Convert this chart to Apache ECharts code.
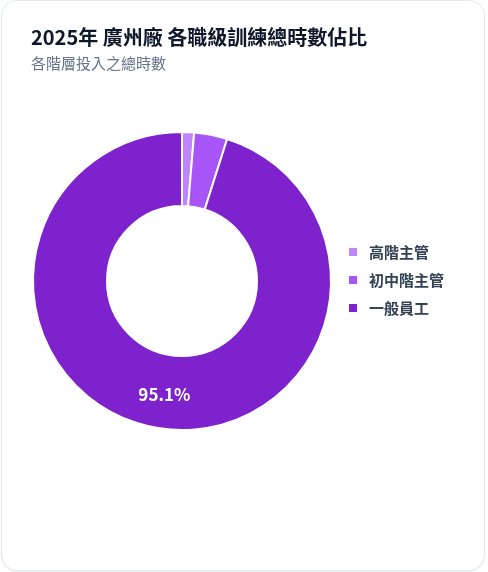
<!DOCTYPE html>
<html>
<head>
<meta charset="utf-8">
<script src="https://cdn.jsdelivr.net/npm/echarts@6/dist/echarts.min.js"></script>
<style>
  html, body { margin: 0; padding: 0; background: #ffffff; width: 488px; height: 572px; overflow: hidden; }
  #card { position: absolute; left: 1px; top: 0px; width: 482px; height: 569px; border: 1px solid #e2e8f0; border-radius: 16px; background: #fff; box-shadow: 0 1px 2px rgba(15,23,42,0.05); }
  #chart { position: absolute; left: 0; top: 0; width: 488px; height: 572px; }
</style>
</head>
<body>
<div id="card"></div>
<div id="chart"></div>
<script>
const titleText = '2025年 廣州廠 各職級訓練總時數佔比';
const subtitleText = '各階層投入之總時數';
const categories = ['高階主管', '初中階主管', '一般員工'];
const values = [1.3, 3.6, 95.1];
const colors = ['#c084fc', '#a855f7', '#7e22ce'];

const chart = echarts.init(document.getElementById('chart'), null, { renderer: 'canvas' });
const fontFamily = '"Noto Sans CJK TC", "Noto Sans", sans-serif';
chart.setOption({
  animation: false,
  color: colors,
  title: {
    text: titleText,
    subtext: subtitleText,
    left: 31,
    top: 27,
    padding: 0,
    itemGap: 9,
    textStyle: { fontFamily, fontSize: 20, fontWeight: 'bold', color: '#0f172a' },
    subtextStyle: { fontFamily, fontSize: 15, color: '#64748b' }
  },
  legend: {
    orient: 'vertical',
    left: 347,
    top: 244,
    padding: 0,
    itemWidth: 10,
    itemHeight: 10,
    itemGap: 12,
    icon: 'rect',
    data: categories,
    textStyle: { fontFamily, fontSize: 15, fontWeight: 'bold', color: '#334155', padding: [0, 0, 0, 6], lineHeight: 16 }
  },
  series: [{
    type: 'pie',
    center: [182, 281],
    radius: [75, 149],
    startAngle: 90,
    clockwise: true,
    avoidLabelOverlap: false,
    itemStyle: { borderColor: '#ffffff', borderWidth: 2 },
    label: {
      show: true,
      position: 'inside',
      fontFamily,
      fontSize: 17,
      fontWeight: 'bold',
      color: '#ffffff',
      formatter: function (p) { return p.percent >= 10 ? p.percent.toFixed(1) + '%' : ''; }
    },
    labelLine: { show: false },
    data: categories.map((c, i) => ({ name: c, value: values[i] }))
  }]
});
</script>
</body>
</html>
